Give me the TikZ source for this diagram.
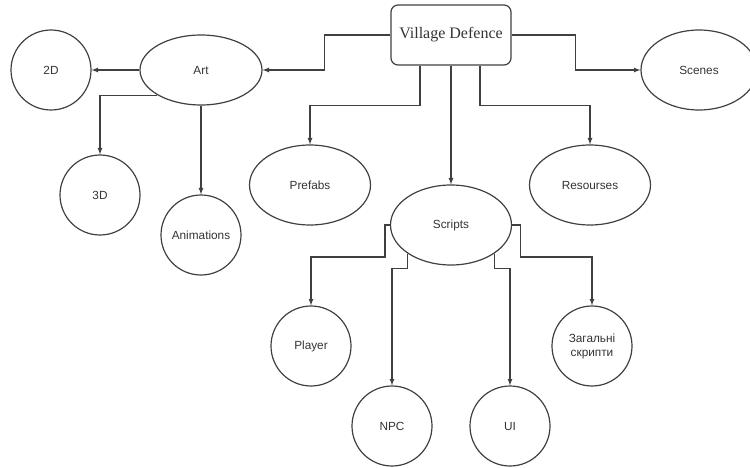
\documentclass[tikz,border=0pt]{standalone}
\usepackage{fontspec}
\setmainfont{Liberation Sans}
\newfontfamily\titlefont{Liberation Serif}
\usetikzlibrary{shapes.geometric, arrows, positioning}
\tikzstyle{root} = [rectangle, rounded corners=7pt, minimum width=120pt, minimum height=60pt, text centered, draw=black!75, line width=1.2pt, font=\titlefont\fontsize{16}{19}\selectfont, text=black!80]
\tikzstyle{folder} = [ellipse, minimum width=121pt, minimum height=80pt, inner sep=1pt, text centered, draw=black!75, line width=1.2pt, font=\fontsize{11.8}{14}\selectfont, text=black!80]
\tikzstyle{leaf} = [circle, minimum size=80pt, inner sep=1pt, align=center, draw=black!75, line width=1.2pt, font=\fontsize{11.8}{14}\selectfont, text=black!80]
\tikzstyle{arrow} = [line width=1.2pt, draw=black!75, ->, >=latex]

\begin{document}
\begin{tikzpicture}[x=1pt, y=-1pt, on grid]
    \useasboundingbox (0,0) rectangle (750,468);
    \node (vd) [root] at (451,35) {Village Defence};

    \node (art) [folder, minimum height=70pt, minimum width=122pt, below left=35pt and 250pt of vd] {Art};
    \node (twod) [leaf, left=150pt of art] {2D};
    \node (threed) [leaf, below left=125pt and 101pt of art] {3D};
    \node (anim) [leaf, below=165pt of art] {Animations};

    \node (prefabs) [folder, below left=150pt and 141pt of vd] {Prefabs};
    \node (scripts) [folder, below=190pt of vd] {Scripts};
    \node (resourses) [folder, below right=150pt and 139pt of vd] {Resourses};
    \node (scenes) [folder, minimum width=116pt, below right=35pt and 248pt of vd] {Scenes};

    \node (player) [leaf, below left=121pt and 140pt of scripts] {Player};
    \node (npc) [leaf, below left=201pt and 59pt of scripts] {NPC};
    \node (ui) [leaf, below right=201pt and 59pt of scripts] {UI};
    \node (common) [leaf, below right=121pt and 141pt of scripts] {Загальні\\скрипти};

    \draw [arrow] (vd.west) -- ++(-66pt,0) |- (art.east);
    \draw [arrow] ([xshift=-31pt]vd.south) -- ++(0,-40pt) -| (prefabs.north);
    \draw [arrow] (vd.south) -- (scripts.north);
    \draw [arrow] ([xshift=29pt]vd.south) -- ++(0,-40pt) -| (resourses.north);
    \draw [arrow] (vd.east) -- ++(64pt,0) |- (scenes.west);

    \draw [arrow] (art.west) -- (twod.east);
    \draw [arrow] (art.south west) -| (threed.north);
    \draw [arrow] (art.south) -- (anim.north);

    \draw [arrow] (scripts.west) -- ++(-5pt,0) -- ++(0,-32pt) -| (player.north);
    \draw [arrow] (scripts.south west) -- ++(0,-15pt) -| (npc.north);
    \draw [arrow] (scripts.south east) -- ++(0,-15pt) -| (ui.north);
    \draw [arrow] (scripts.east) -- ++(8pt,0) -- ++(0,-32pt) -| (common.north);
\end{tikzpicture}
\end{document}
